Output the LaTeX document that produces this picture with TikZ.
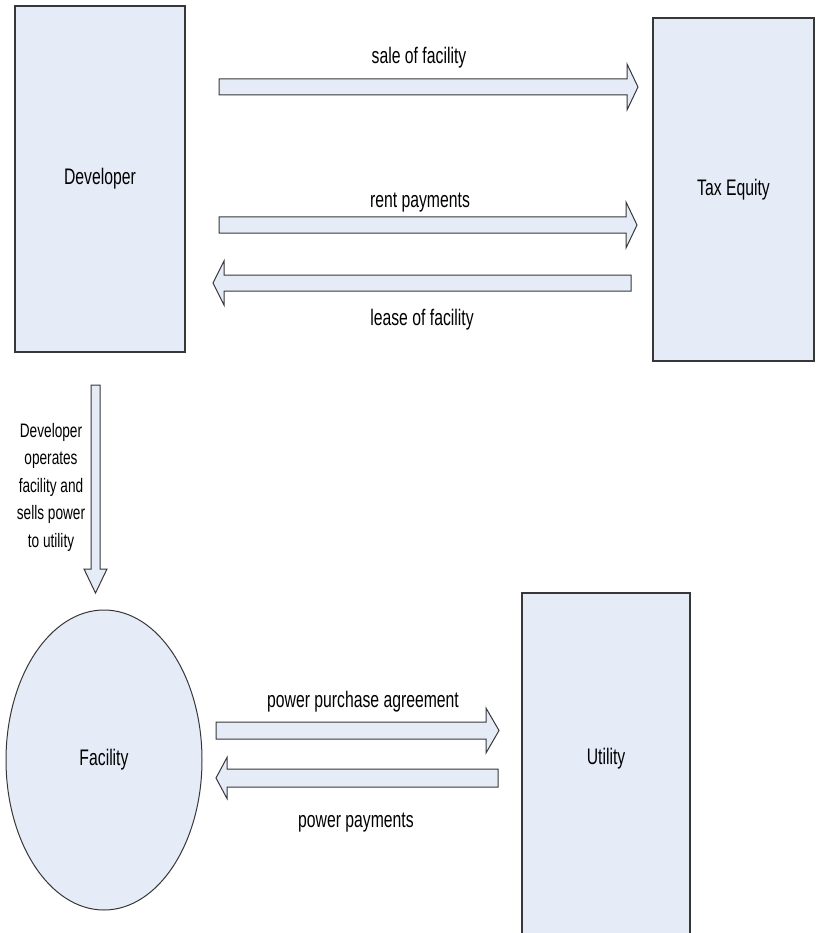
\documentclass[tikz,border=0pt]{standalone}
\usepackage{fontspec}
\setmainfont{Liberation Sans}[FakeStretch=0.7]
\usetikzlibrary{calc,shapes.geometric}
\definecolor{boxfill}{RGB}{230,236,247}
\definecolor{edgegray}{RGB}{55,55,55}
\tikzset{
    party/.style = {draw=edgegray, fill=boxfill, rectangle, line width=1.2pt,
        inner sep=0pt, font=\fontsize{22.5}{27}\selectfont},
    plant/.style = {draw=edgegray, fill=boxfill, ellipse, line width=1pt,
        inner sep=0pt, font=\fontsize{22.5}{27}\selectfont},
    flowlbl/.style = {inner sep=0pt, font=\fontsize{22.5}{27}\selectfont},
    note/.style = {align=center, inner sep=0pt, font=\fontsize{19.5}{27.5}\selectfont},
    flow/.style n args = {3}{draw=edgegray, fill=boxfill, line width=1pt,
        to path={($(\tikztostart)!#1!90:(\tikztotarget)$)
            -- ($(\tikztotarget)!#3!(\tikztostart)!#1!-90:(\tikztostart)$)
            -- ($(\tikztotarget)!#3!(\tikztostart)!#2!-90:(\tikztostart)$)
            -- (\tikztotarget)
            -- ($(\tikztotarget)!#3!(\tikztostart)!#2!90:(\tikztostart)$)
            -- ($(\tikztotarget)!#3!(\tikztostart)!#1!90:(\tikztostart)$)
            -- ($(\tikztostart)!#1!-90:(\tikztotarget)$) -- cycle}}
}
\begin{document}
\begin{tikzpicture}[x=1pt, y=-1pt]
    \useasboundingbox (0,0) rectangle (815,933);
    % parties
    \node[party, minimum width=170pt, minimum height=346pt] (dev) at (100,179) {Developer};
    \node[party, minimum width=161pt, minimum height=343pt] (taxeq) at (733.5,189.5) {Tax Equity};
    \node[party, minimum width=168pt, minimum height=352pt,
        label={[flowlbl, yshift=10pt]center:Utility}] (utility) at (606,769) {};
    \node[plant, minimum width=196pt, minimum height=300pt] (facility) at (104,760) {Facility};
    % ends of the flows
    \coordinate (s0) at (219,87);    \coordinate (s1) at (638,87);
    \coordinate (r0) at (219,225);   \coordinate (r1) at (637,225);
    \coordinate (l0) at (631,283);   \coordinate (l1) at (213,283);
    \coordinate (v0) at (95.5,385);  \coordinate (v1) at (95.5,593);
    \coordinate (p0) at (216,730.5); \coordinate (p1) at (499,730.5);
    \coordinate (q0) at (498,778);   \coordinate (q1) at (216,778);
    \draw[flow={8pt}{23pt}{11pt}] (s0) to (s1);
    \draw[flow={8pt}{23pt}{11pt}] (r0) to (r1);
    \draw[flow={8pt}{22pt}{11pt}] (l0) to (l1);
    \draw[flow={4.5pt}{11.5pt}{24pt}] (v0) to (v1);
    \draw[flow={8.5pt}{22.5pt}{13pt}] (p0) to (p1);
    \draw[flow={9pt}{20.5pt}{11pt}] (q0) to (q1);
    % labels
    \node[flowlbl] (sale) at (419,58) {sale of facility};
    \node[flowlbl] (rent) at (420,203) {rent payments};
    \node[flowlbl] (lease) at (422,320) {lease of facility};
    \node[flowlbl] (ppa) at (363,702) {power purchase agreement};
    \node[flowlbl] (pay) at (356,823) {power payments};
    \node[note] (ops) at (51,487) {Developer\\operates\\facility and\\sells power\\to utility};
\end{tikzpicture}
\end{document}
